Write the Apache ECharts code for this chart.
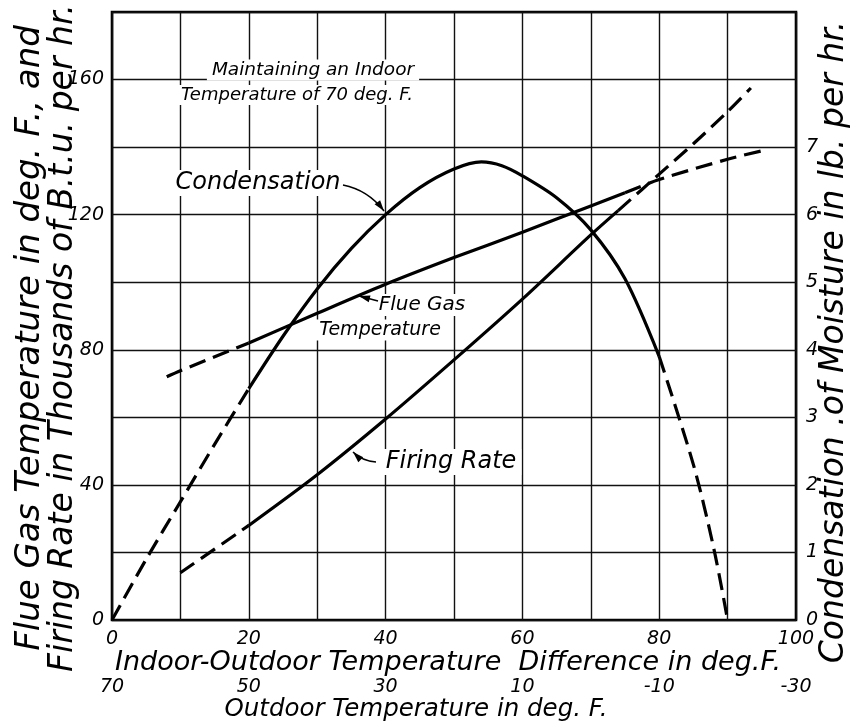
<!DOCTYPE html>
<html><head><meta charset="utf-8">
<script src="https://cdn.jsdelivr.net/npm/echarts@6/dist/echarts.min.js"></script>
<style>html,body{margin:0;padding:0;background:#fff}#c{width:850px;height:724px}</style>
</head><body><div id="c"></div>
<script>
// ---- data ----
const indoorDiffLabels = ['0','20','40','60','80','100'];
const outdoorLabels = ['70','50','30','10','-10','-30'];
const leftLabels = ['0','40','80','120','160'];
const rightLabels = ['0','1','2','3','4','5','6','7'];

// Condensation (lb per hr, right axis)
const condX = [0,5,10,15,20,25,30,35,40,45,50,54,57,60,65,70,75,80,85,88,90];
const condY = [0,0.9,1.75,2.6,3.425,4.2,4.9,5.5,6.0,6.4,6.675,6.78,6.725,6.575,6.25,5.775,5.05,3.9,2.3,1.05,0];
// Flue gas temperature (deg F, left axis)
const flueX = [8,10,20,30,40,50,60,70,80,90,95];
const flueY = [72,73.8,82,90.8,99.4,107.3,114.8,122.6,130.4,136.4,138.9];
// Firing rate (thousands of Btu per hr, left axis)
const fireX = [10,20,30,40,50,60,70,80,85,90,93.4];
const fireY = [14,28,43,59.5,77,95,114,132,141,150.5,157.5];

const condBreaks = [20,80];
const flueBreaks = [20,75];
const fireBreaks = [20,74];

function seg(xs, ys, lo, hi){
  const out=[];
  for(let i=0;i<xs.length;i++){ if(xs[i]>=lo-1e-9 && xs[i]<=hi+1e-9) out.push([xs[i],ys[i]]); }
  return out;
}
function interp(xs, ys, x){
  for(let i=0;i<xs.length-1;i++){ if(x>=xs[i]&&x<=xs[i+1]){const t=(x-xs[i])/(xs[i+1]-xs[i]);return ys[i]+t*(ys[i+1]-ys[i]);} }
  return ys[ys.length-1];
}
function threeSeries(xs, ys, br, yAxisIndex){
  const a=xs[0], b=xs[xs.length-1];
  const p1=[br[0],interp(xs,ys,br[0])], p2=[br[1],interp(xs,ys,br[1])];
  const s1 = seg(xs,ys,a,br[0]); if(s1[s1.length-1][0]!==br[0]) s1.push(p1);
  let s2 = seg(xs,ys,br[0],br[1]); if(s2[0][0]!==br[0]) s2.unshift(p1); if(s2[s2.length-1][0]!==br[1]) s2.push(p2);
  let s3 = seg(xs,ys,br[1],b); if(s3[0][0]!==br[1]) s3.unshift(p2);
  const base = {type:'line', yAxisIndex, symbol:'none', smooth:0.3, silent:true, animation:false, z:5};
  const dash = [17,8];
  return [
    Object.assign({}, base, {data:s1, lineStyle:{color:'#000', width:3.2, type:dash}}),
    Object.assign({}, base, {data:s2, lineStyle:{color:'#000', width:3.2}}),
    Object.assign({}, base, {data:s3, lineStyle:{color:'#000', width:3.2, type:dash}})
  ];
}

const FONT = 'DejaVu Sans';
const tickFont = {fontFamily:FONT, fontStyle:'italic', fontSize:19, color:'#000'};
const gridLine = {show:true, lineStyle:{color:'#111', width:1.4}};

const chart = echarts.init(document.getElementById('c'), null, {renderer:'canvas'});

function arrow(p0, p1, ctrl){
  const els=[];
  if(ctrl){
    els.push({type:'bezierCurve', shape:{x1:p0[0],y1:p0[1],x2:p1[0],y2:p1[1],cpx1:ctrl[0],cpy1:ctrl[1]}, style:{stroke:'#000',lineWidth:1.5,fill:null}, z:10});
  } else {
    els.push({type:'line', shape:{x1:p0[0],y1:p0[1],x2:p1[0],y2:p1[1]}, style:{stroke:'#000',lineWidth:1.5}, z:10});
  }
  const from = ctrl || p0;
  const dx=p1[0]-from[0], dy=p1[1]-from[1], L=Math.hypot(dx,dy), ux=dx/L, uy=dy/L;
  const hl=11, hw=3.5;
  const bx=p1[0]-ux*hl, by=p1[1]-uy*hl;
  els.push({type:'polygon', shape:{points:[[p1[0],p1[1]],[bx-uy*hw,by+ux*hw],[bx+uy*hw,by-ux*hw]]}, style:{fill:'#000'}, z:10});
  return els;
}
function txt(x,y,t,size,rot,bg){
  const st = {text:t, fontFamily:FONT, fontStyle:'italic', fontSize:size, fill:'#000', align:'center', verticalAlign:'middle'};
  if(bg){ st.backgroundColor='#fff'; st.padding=[1,5]; }
  return {type:'text', x, y, rotation:rot||0, z:8, style:st};
}

const graphics = [
  txt(30,338,'Flue Gas Temperature in deg. F., and',34,Math.PI/2),
  txt(63,338,'Firing Rate in Thousands of B.t.u. per hr.',33,Math.PI/2),
  txt(834,342,'Condensation .of Moisture in lb. per hr.',33,Math.PI/2),
  txt(448,663,'Indoor-Outdoor Temperature  Difference in deg.F.',27,0),
  txt(416,710,'Outdoor Temperature in deg. F.',24.5,0),
  txt(313,70,'Maintaining an Indoor',18.5,0,true),
  txt(297,95,'Temperature of 70 deg. F.',18,0,true),
  txt(258,183,'Condensation',24,0,true),
  txt(422,305,'Flue Gas',20,0,true),
  txt(380,330,'Temperature',19,0,true),
  txt(451,462,'Firing Rate',24,0,true)
].concat(
  arrow([343,185],[384,211],[368,190]),
  arrow([378,301],[359,296]),
  arrow([376,462],[353,452],[362,461])
);

const option = {
  animation:false,
  backgroundColor:'#fff',
  grid:{left:112, right:54, top:12, bottom:104, show:true, borderColor:'#000', borderWidth:2.6, backgroundColor:'transparent'},
  xAxis:[
    {type:'value', min:0, max:100, interval:10, position:'bottom',
     axisLine:{show:false}, axisTick:{show:false}, splitLine:gridLine,
     axisLabel:Object.assign({margin:10, formatter:v=> (v%20===0 ? indoorDiffLabels[v/20] : '')}, tickFont)},
    {type:'value', min:0, max:100, interval:20, position:'bottom', offset:50,
     axisLine:{show:false}, axisTick:{show:false}, splitLine:{show:false},
     axisLabel:Object.assign({margin:8, formatter:v=> outdoorLabels[v/20]}, tickFont)}
  ],
  yAxis:[
    {type:'value', min:0, max:180, interval:20, position:'left',
     axisLine:{show:false}, axisTick:{show:false}, splitLine:gridLine,
     axisLabel:Object.assign({margin:8, formatter:v=> (v%40===0 && v<=160 ? leftLabels[v/40] : '')}, tickFont)},
    {type:'value', min:0, max:9, interval:1, position:'right',
     axisLine:{show:false}, axisTick:{show:false}, splitLine:{show:false},
     axisLabel:Object.assign({margin:10, formatter:v=> (v<=7 ? rightLabels[v] : '')}, tickFont)}
  ],
  series:[].concat(
    threeSeries(condX, condY, condBreaks, 1),
    threeSeries(flueX, flueY, flueBreaks, 0),
    threeSeries(fireX, fireY, fireBreaks, 0)
  ),
  graphic:graphics
};
chart.setOption(option);
</script></body></html>
